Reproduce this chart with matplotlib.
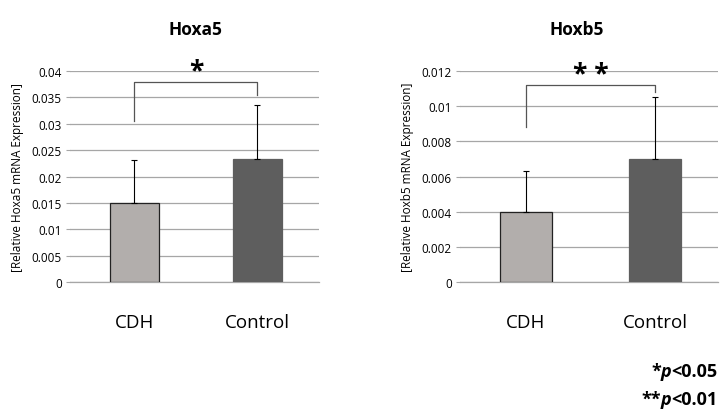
import matplotlib.pyplot as plt
import numpy as np

plt.rcParams['font.family'] = ['Open Sans', 'DejaVu Sans']

# dados
grupos = ['CDH', 'Control']
cores = ['#b2aeac', '#5e5e5e']

hoxa5_media = [0.0150, 0.0233]
hoxa5_erro = [0.0082, 0.0102]
hoxb5_media = [0.0040, 0.0070]
hoxb5_erro = [0.0023, 0.0035]

# colchetes de significância: (base esquerda, topo, base direita)
hoxa5_colchete = [0.0305, 0.0380, 0.0355]
hoxb5_colchete = [0.0088, 0.0112, 0.0108]


def painel(ax, medias, erros, colchete, estrela, ymax, passo, label, xlim):
    x = np.arange(len(grupos))
    ax.bar(x, medias, width=0.40, color=cores, edgecolor=['#222222', '#5e5e5e'],
           linewidth=0.9, zorder=3)
    ax.errorbar(x, medias, yerr=[np.zeros(len(erros)), erros], fmt='none',
                ecolor='black', elinewidth=0.8, capsize=2.5, capthick=0.8, zorder=4)
    ax.set_ylim(0, ymax)
    ax.set_xlim(*xlim)
    ticks = np.arange(0, ymax + passo / 2, passo)
    ax.set_yticks(ticks)
    ax.set_yticklabels([('%g' % v) for v in ticks])
    ax.grid(axis='y', color='#a6a6a6', linewidth=0.9, zorder=0)
    for s in ['top', 'right', 'left']:
        ax.spines[s].set_visible(False)
    ax.spines['bottom'].set_color('#a6a6a6')
    ax.spines['bottom'].set_linewidth(0.9)
    ax.tick_params(axis='y', length=3, color='#a6a6a6', labelsize=8.5, pad=3)
    ax.tick_params(axis='x', length=0, labelsize=13.5, pad=22)
    ax.set_xticks(x)
    ax.set_xticklabels(grupos)
    ax.set_ylabel(label, fontsize=8.5, labelpad=5)
    # colchete
    ax.plot([x[0], x[0], x[1], x[1]],
            [colchete[0], colchete[1], colchete[1], colchete[2]],
            color='#555555', linewidth=0.9, zorder=5, clip_on=False)
    ax.text((x[0] + x[1]) / 2, colchete[1] - ymax * 0.012, estrela, ha='center',
            va='bottom', fontsize=19, fontweight='bold', zorder=6)


fig = plt.figure(figsize=(7.2, 4.14), dpi=100)
ax1 = fig.add_axes([0.0972, 0.3164, 0.3458, 0.5097])
ax2 = fig.add_axes([0.6389, 0.3164, 0.3583, 0.5097])

painel(ax1, hoxa5_media, hoxa5_erro, hoxa5_colchete, '*', 0.04, 0.005,
       '[Relative Hoxa5 mRNA Expression]', (-0.524, 1.5))
painel(ax2, hoxb5_media, hoxb5_erro, hoxb5_colchete, '* *', 0.012, 0.002,
       '[Relative Hoxb5 mRNA Expression]', (-0.512, 1.488))

fig.text(195 / 720, 1 - 30 / 414, 'Hoxa5', ha='center', va='center',
         fontsize=12.5, fontweight='bold')
fig.text(577 / 720, 1 - 30 / 414, 'Hoxb5', ha='center', va='center',
         fontsize=12.5, fontweight='bold')

# legenda de p-valores, montada em partes
fig.canvas.draw()
renderer = fig.canvas.get_renderer()
for estrelas, limite, ypix in [('*', '<0.05', 372), ('**', '<0.01', 400)]:
    y = 1 - ypix / 414
    t1 = fig.text(0.997, y, limite, ha='right', va='center', fontsize=13,
                  fontweight='bold')
    bb = t1.get_window_extent(renderer).transformed(fig.transFigure.inverted())
    t2 = fig.text(bb.x0, y, 'p', ha='right', va='center', fontsize=13,
                  fontweight='bold', style='italic')
    bb = t2.get_window_extent(renderer).transformed(fig.transFigure.inverted())
    fig.text(bb.x0, y, estrelas, ha='right', va='center', fontsize=13,
             fontweight='bold')

fig.savefig('out.png', dpi=100)
